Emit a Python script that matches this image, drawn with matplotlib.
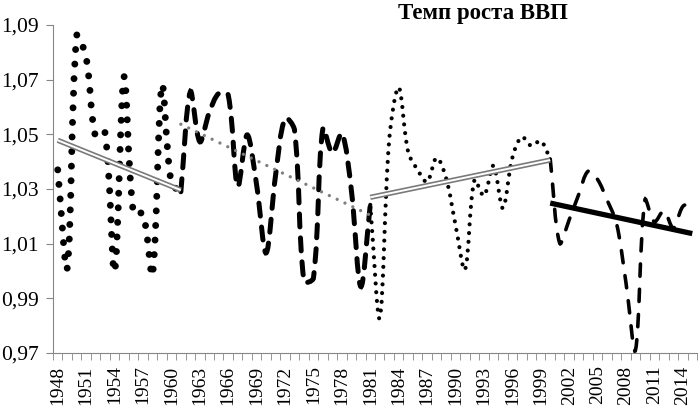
import numpy as np
import matplotlib.pyplot as plt
from matplotlib.path import Path
from matplotlib.patches import PathPatch
from matplotlib.ticker import FuncFormatter

plt.rcParams['font.family'] = ['Liberation Serif', 'DejaVu Serif']

years = list(range(1948, 2016))

# темп роста ВВП по периодам (концы периодов общие)
g_1948_1961 = [1.037, 1.001, 1.086, 1.078, 1.049, 1.0505, 0.9998, 1.071, 1.021, 1.021,
               0.9986, 1.068, 1.032, 1.029]
g_1961_1981 = [1.029, 1.0656, 1.0473, 1.058, 1.065, 1.0644, 1.0309, 1.0498, 1.0315, 1.0066,
               1.035, 1.0559, 1.0516, 0.9962, 0.9974, 1.0522, 1.0431, 1.0504, 1.0297, 0.9943,
               1.0242]
g_1981_2000 = [1.0242, 0.9828, 1.048, 1.0672, 1.0436, 1.037, 1.0326, 1.0414, 1.0341, 1.0169,
               1.0005, 1.0333, 1.0275, 1.0385, 1.023, 1.0414, 1.0491, 1.0458, 1.0476, 1.041]
g_2000_2015 = [1.041, 1.0102, 1.0187, 1.0279, 1.0365, 1.0335, 1.026, 1.0175, 0.9957, 0.971,
               1.026, 1.018, 1.022, 1.0157, 1.0236, 1.025]

seg_start = [1948, 1961, 1981, 2000]

# размер области графика в пикселях
W_PX, H_PX = 644, 328
YMIN, YMAX = 0.97, 1.09


def smooth_path(x, y):
    # сглаженная линия примерно как в Excel, считаем в пикселях
    sx = W_PX / len(years)
    sy = H_PX / (YMAX - YMIN)
    p = np.column_stack([np.asarray(x) * sx, np.asarray(y) * sy])
    n = len(p)
    verts = [p[0]]
    codes = [Path.MOVETO]
    for i in range(n - 1):
        p0 = p[max(i - 1, 0)]
        p1, p2 = p[i], p[i + 1]
        p3 = p[min(i + 2, n - 1)]
        d01 = np.hypot(*(p1 - p0))
        d12 = np.hypot(*(p2 - p1))
        d23 = np.hypot(*(p3 - p2))
        c1 = p1 + (p2 - p0) * d12 / (d01 + d12) / 3
        c2 = p2 - (p3 - p1) * d12 / (d12 + d23) / 3
        verts += [c1, c2, p2]
        codes += [Path.CURVE4] * 3
    verts = np.array(verts) / [sx, sy]
    return Path(verts, codes)


fig = plt.figure(figsize=(7, 4.08), dpi=100)
ax = fig.add_axes([53 / 700, 1 - 353 / 408, W_PX / 700, H_PX / 408])

series = [g_1948_1961, g_1961_1981, g_1981_2000, g_2000_2015]
styles = [
    dict(lw=5.0, ls=(0, (0.001, 2.1))),
    dict(lw=3.6, ls=(0, (2.6, 2.2))),
    dict(lw=3.0, ls=(0, (0.001, 2.1))),
    dict(lw=2.6, ls=(0, (3.4, 3.6))),
]
for start, vals, st in zip(seg_start, series, styles):
    x = np.arange(len(vals)) + (start - years[0])
    patch = PathPatch(smooth_path(x, vals), fill=False, edgecolor='black',
                      linewidth=st['lw'], linestyle=st['ls'], capstyle='round', zorder=2)
    ax.add_patch(patch)

# линейные тренды
for k, (start, vals) in enumerate(zip(seg_start, series)):
    x = np.arange(len(vals)) + (start - years[0])
    a, b = np.polyfit(x, vals, 1)
    xx = np.array([x[0], x[-1]])
    yy = a * xx + b
    if k in (0, 2):
        ax.plot(xx, yy, color='#7a7a7a', lw=3.8, solid_capstyle='butt', zorder=3)
        ax.plot(xx, yy, color='white', lw=1.4, solid_capstyle='butt', zorder=4)
    elif k == 1:
        ax.plot(xx, yy, color='#7f7f7f', lw=2.4, ls=(0, (0.001, 2.6)),
                dash_capstyle='round', zorder=3)
    else:
        ax.plot(xx, yy, color='black', lw=3.8, solid_capstyle='butt', zorder=3)

ax.set_xlim(-0.5, len(years) - 0.5)
ax.set_ylim(YMIN, YMAX)
ax.set_yticks(np.arange(0.97, 1.0901, 0.02))
ax.yaxis.set_major_formatter(FuncFormatter(lambda v, p: f'{v:.2f}'.replace('.', ',')))
ax.set_xticks(range(0, len(years), 3))
ax.set_xticklabels([str(y) for y in years[::3]], rotation=90)
ax.set_xticks(np.arange(-0.5, len(years), 1), minor=True)
ax.tick_params(axis='x', which='major', length=0, pad=9, labelsize=14)
ax.tick_params(axis='x', which='minor', length=5, color='#868686')
ax.tick_params(axis='y', length=5, color='#868686', pad=5, labelsize=15.5)

for s in ['top', 'right']:
    ax.spines[s].set_visible(False)
for s in ['left', 'bottom']:
    ax.spines[s].set_color('#868686')

fig.text(0.69, 0.966, 'Темп роста ВВП', fontweight='bold', fontsize=16.5,
         ha='center', va='center')

fig.savefig('out.png', dpi=100)
